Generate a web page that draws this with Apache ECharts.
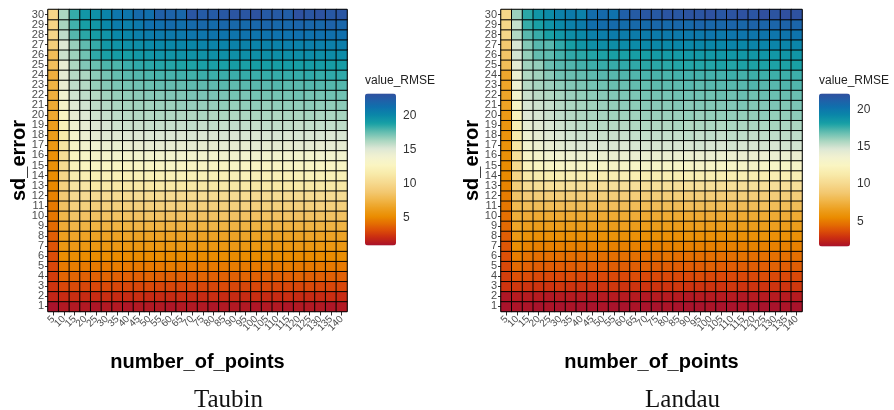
<!DOCTYPE html>
<html><head><meta charset="utf-8">
<script src="https://cdn.jsdelivr.net/npm/echarts@6/dist/echarts.min.js"></script>
<style>html,body{margin:0;padding:0;background:#fff}#c{width:894px;height:410px}</style>
</head><body><div id="c"></div>
<script>
const numberOfPoints = ['5','10','15','20','25','30','35','40','45','50','55','60','65','70','75','80','85','90','95','100','105','110','115','120','125','130','135','140'];
const sdError = ['1','2','3','4','5','6','7','8','9','10','11','12','13','14','15','16','17','18','19','20','21','22','23','24','25','26','27','28','29','30'];
const legendTicks = [5, 10, 15, 20];
const taubinRange = [0.85, 23.2];
const landauRange = [1.66, 22.1];

// rows: sd_error 1..30, columns: number_of_points 5..140
const taubinRMSE = [
[0.9,1.2,1.2,1.2,1.1,1.2,1.2,1.1,1.2,1.2,1.2,1.1,1.2,1.2,1.2,1.1,1.2,1.2,1.2,1.1,1.2,1.2,1.1,1.2,1.2,1.2,1.1,1.2],
[1.8,2.0,2.1,2.0,2.0,2.1,2.0,2.0,2.1,2.0,2.0,2.0,2.1,2.0,2.0,2.1,2.0,2.0,2.0,2.1,2.0,2.0,2.1,2.0,2.0,2.0,2.1,2.0],
[2.3,2.9,3.0,2.9,2.9,3.0,2.9,2.9,2.9,3.0,2.9,2.9,2.9,3.0,2.9,2.9,3.0,2.9,2.9,2.9,3.0,2.9,2.9,2.9,3.0,2.9,2.9,2.9],
[2.6,3.8,3.8,3.7,3.7,3.8,3.7,3.7,3.7,3.8,3.7,3.7,3.7,3.7,3.8,3.7,3.7,3.7,3.8,3.7,3.7,3.7,3.7,3.8,3.7,3.7,3.7,3.7],
[2.9,4.5,4.6,4.5,4.5,4.5,4.6,4.5,4.5,4.5,4.5,4.6,4.5,4.5,4.5,4.5,4.5,4.6,4.5,4.5,4.5,4.5,4.6,4.5,4.5,4.5,4.5,4.5],
[3.1,5.2,5.2,5.1,5.1,5.2,5.1,5.1,5.1,5.1,5.2,5.1,5.1,5.1,5.1,5.1,5.2,5.1,5.1,5.1,5.1,5.2,5.1,5.1,5.1,5.1,5.1,5.2],
[3.3,5.8,5.9,5.8,5.8,5.8,5.9,5.8,5.8,5.8,5.8,5.8,5.9,5.8,5.8,5.8,5.8,5.9,5.8,5.8,5.8,5.8,5.8,5.9,5.8,5.8,5.8,5.8],
[3.6,6.3,6.6,6.5,6.5,6.5,6.5,6.6,6.5,6.5,6.5,6.5,6.5,6.6,6.5,6.5,6.5,6.5,6.6,6.5,6.5,6.5,6.5,6.5,6.6,6.5,6.5,6.5],
[4.0,7.0,7.5,7.4,7.4,7.4,7.4,7.4,7.5,7.4,7.4,7.4,7.4,7.4,7.4,7.5,7.4,7.4,7.4,7.4,7.4,7.5,7.4,7.4,7.4,7.4,7.4,7.4],
[4.4,7.6,8.4,8.3,8.3,8.3,8.3,8.3,8.3,8.4,8.3,8.3,8.3,8.3,8.3,8.3,8.4,8.3,8.3,8.3,8.3,8.3,8.4,8.3,8.3,8.3,8.3,8.3],
[4.5,8.3,9.3,9.3,9.2,9.3,9.3,9.3,9.3,9.3,9.3,9.4,9.3,9.3,9.3,9.3,9.3,9.3,9.4,9.3,9.3,9.3,9.3,9.3,9.3,9.4,9.3,9.3],
[4.8,8.9,10.1,10.2,10.2,10.2,10.2,10.2,10.3,10.2,10.2,10.2,10.2,10.2,10.3,10.2,10.2,10.2,10.2,10.2,10.2,10.3,10.2,10.2,10.2,10.2,10.2,10.3],
[5.0,9.4,11.0,11.1,11.2,11.2,11.2,11.2,11.2,11.2,11.3,11.2,11.2,11.2,11.2,11.2,11.3,11.2,11.2,11.2,11.2,11.2,11.2,11.3,11.2,11.2,11.2,11.2],
[5.2,9.8,11.7,11.9,12.0,12.1,12.1,12.1,12.1,12.1,12.1,12.1,12.2,12.1,12.1,12.1,12.1,12.1,12.2,12.1,12.1,12.1,12.1,12.1,12.2,12.1,12.1,12.1],
[5.4,10.2,12.4,12.6,12.8,12.8,12.9,12.9,12.9,12.9,12.9,13.0,12.9,12.9,12.9,12.9,12.9,13.0,12.9,12.9,12.9,12.9,13.0,12.9,12.9,12.9,12.9,13.0],
[5.4,10.4,12.7,13.1,13.4,13.5,13.6,13.6,13.7,13.7,13.7,13.7,13.8,13.7,13.7,13.7,13.8,13.7,13.7,13.8,13.7,13.7,13.8,13.7,13.7,13.8,13.7,13.8],
[5.8,11.0,13.1,13.7,14.0,14.2,14.3,14.4,14.4,14.5,14.5,14.5,14.5,14.6,14.5,14.5,14.6,14.5,14.5,14.6,14.5,14.6,14.5,14.6,14.6,14.5,14.6,14.6],
[6.1,11.5,13.5,14.2,14.6,14.8,14.9,15.0,15.0,15.1,15.1,15.1,15.1,15.2,15.1,15.1,15.2,15.1,15.2,15.1,15.2,15.2,15.1,15.2,15.2,15.2,15.1,15.2],
[6.2,12.2,14.0,14.6,15.0,15.2,15.4,15.5,15.5,15.6,15.6,15.6,15.6,15.7,15.6,15.7,15.6,15.7,15.7,15.6,15.7,15.7,15.7,15.6,15.7,15.7,15.7,15.8],
[6.8,12.7,14.5,15.0,15.4,15.6,15.8,15.9,16.0,16.0,16.1,16.1,16.1,16.1,16.2,16.1,16.2,16.1,16.2,16.2,16.2,16.1,16.2,16.2,16.3,16.2,16.2,16.3],
[6.9,13.4,14.9,15.4,15.8,16.0,16.2,16.3,16.4,16.4,16.5,16.5,16.6,16.6,16.6,16.6,16.7,16.6,16.7,16.7,16.6,16.7,16.7,16.7,16.8,16.7,16.7,16.8],
[7.2,13.9,15.4,15.8,16.0,16.4,16.6,16.7,16.8,16.9,16.9,17.0,17.0,17.1,17.1,17.1,17.1,17.2,17.1,17.2,17.2,17.2,17.2,17.3,17.2,17.2,17.3,17.3],
[7.4,14.4,15.8,16.0,16.6,16.9,17.1,17.2,17.3,17.4,17.5,17.5,17.5,17.6,17.6,17.6,17.7,17.6,17.7,17.7,17.7,17.8,17.7,17.7,17.8,17.8,17.8,17.8],
[7.2,14.7,16.0,16.2,16.8,17.2,17.5,17.7,17.8,17.9,18.0,18.0,18.1,18.1,18.2,18.2,18.2,18.2,18.3,18.2,18.3,18.3,18.3,18.3,18.4,18.3,18.4,18.4],
[8.1,14.4,16.2,17.0,17.4,17.9,17.9,18.2,18.4,18.5,18.6,18.6,18.7,18.7,18.8,18.8,18.8,18.9,18.8,18.9,18.9,18.9,19.0,18.9,19.0,19.0,19.0,19.0],
[8.0,15.5,16.5,17.3,18.4,18.8,19.0,18.9,19.2,19.3,19.4,19.4,19.5,19.5,19.5,19.6,19.6,19.6,19.7,19.6,19.7,19.7,19.7,19.7,19.8,19.7,19.8,19.8],
[9.2,15.0,16.6,17.6,18.3,19.2,19.4,19.6,19.7,19.9,20.0,20.0,20.1,20.1,20.2,20.2,20.2,20.3,20.3,20.2,20.3,20.3,20.4,20.3,20.4,20.4,20.4,20.5],
[9.8,15.8,17.8,18.5,19.0,19.4,20.0,20.1,20.4,20.6,20.7,20.8,20.8,20.9,20.9,21.0,21.0,21.0,21.1,21.0,21.1,21.1,21.1,21.2,21.1,21.2,21.2,21.2],
[9.6,16.3,18.1,18.9,19.3,20.0,20.6,20.4,20.8,21.2,21.3,21.5,21.3,21.6,21.7,21.5,21.8,21.7,21.6,21.8,21.9,21.7,21.7,21.9,21.8,21.7,22.0,21.8],
[9.8,16.2,18.3,19.3,19.6,20.2,20.9,20.9,21.6,21.3,22.2,22.0,21.8,22.8,22.5,22.5,22.7,22.9,22.8,23.0,22.6,22.6,22.3,23.1,22.8,23.0,22.7,22.8]
];

const landauRMSE = [
[1.7,1.8,1.8,1.7,1.8,1.7,1.8,1.7,1.7,1.8,1.7,1.7,1.8,1.7,1.7,1.8,1.7,1.7,1.7,1.8,1.7,1.7,1.8,1.7,1.7,1.7,1.8,1.7],
[1.9,2.1,2.1,2.1,2.0,2.1,2.1,2.1,2.0,2.1,2.1,2.1,2.1,2.0,2.1,2.1,2.1,2.0,2.1,2.1,2.1,2.1,2.0,2.1,2.1,2.1,2.1,2.1],
[3.0,3.1,3.0,3.0,3.0,3.1,3.0,3.0,3.0,3.0,3.1,3.0,3.0,3.0,3.0,3.0,3.1,3.0,3.0,3.0,3.0,3.1,3.0,3.0,3.0,3.0,3.0,3.1],
[3.3,3.8,3.7,3.6,3.6,3.6,3.7,3.6,3.6,3.6,3.6,3.6,3.7,3.6,3.6,3.6,3.6,3.6,3.7,3.6,3.6,3.6,3.6,3.6,3.7,3.6,3.6,3.6],
[3.6,4.5,4.3,4.2,4.2,4.2,4.2,4.3,4.2,4.2,4.2,4.2,4.2,4.3,4.2,4.2,4.2,4.2,4.2,4.3,4.2,4.2,4.2,4.2,4.2,4.3,4.2,4.2],
[3.8,5.1,4.8,4.7,4.7,4.7,4.7,4.7,4.8,4.7,4.7,4.7,4.7,4.7,4.7,4.8,4.7,4.7,4.7,4.7,4.7,4.7,4.8,4.7,4.7,4.7,4.7,4.7],
[4.0,5.7,5.3,5.2,5.2,5.2,5.2,5.2,5.2,5.3,5.2,5.2,5.2,5.2,5.2,5.2,5.3,5.2,5.2,5.2,5.2,5.2,5.2,5.3,5.2,5.2,5.2,5.2],
[4.2,6.3,5.9,5.8,5.8,5.8,5.8,5.8,5.8,5.8,5.9,5.8,5.8,5.8,5.8,5.8,5.8,5.9,5.8,5.8,5.8,5.8,5.8,5.8,5.9,5.8,5.8,5.8],
[4.5,6.9,6.6,6.5,6.5,6.5,6.5,6.5,6.5,6.5,6.5,6.6,6.5,6.5,6.5,6.5,6.5,6.5,6.6,6.5,6.5,6.5,6.5,6.5,6.5,6.6,6.5,6.5],
[4.7,7.4,7.3,7.2,7.2,7.2,7.2,7.2,7.2,7.2,7.2,7.2,7.3,7.2,7.2,7.2,7.2,7.2,7.2,7.3,7.2,7.2,7.2,7.2,7.2,7.2,7.3,7.2],
[4.9,8.0,8.2,8.2,8.2,8.2,8.2,8.2,8.2,8.2,8.3,8.2,8.2,8.2,8.2,8.2,8.2,8.3,8.2,8.2,8.2,8.2,8.2,8.2,8.3,8.2,8.2,8.2],
[5.1,8.6,9.1,9.2,9.2,9.2,9.2,9.2,9.2,9.3,9.2,9.2,9.2,9.2,9.2,9.2,9.3,9.2,9.2,9.2,9.2,9.2,9.3,9.2,9.2,9.2,9.2,9.2],
[5.3,9.2,10.2,10.4,10.5,10.5,10.5,10.5,10.5,10.5,10.6,10.5,10.5,10.5,10.5,10.5,10.5,10.6,10.5,10.5,10.5,10.5,10.5,10.6,10.5,10.5,10.5,10.5],
[5.5,9.7,11.2,11.5,11.6,11.7,11.7,11.7,11.7,11.7,11.7,11.8,11.7,11.7,11.7,11.7,11.7,11.8,11.7,11.7,11.7,11.7,11.8,11.7,11.7,11.7,11.7,11.8],
[5.6,10.1,12.2,12.5,12.7,12.8,12.8,12.9,12.9,12.9,12.9,12.9,12.9,13.0,12.9,12.9,12.9,12.9,13.0,12.9,12.9,12.9,12.9,13.0,12.9,12.9,12.9,13.0],
[5.8,10.6,12.8,13.2,13.5,13.6,13.7,13.8,13.8,13.9,13.9,13.9,13.9,13.9,13.9,14.0,13.9,13.9,13.9,14.0,13.9,13.9,14.0,13.9,13.9,14.0,13.9,14.0],
[5.9,11.0,13.4,13.8,14.1,14.3,14.5,14.6,14.6,14.7,14.7,14.7,14.8,14.8,14.8,14.8,14.8,14.8,14.9,14.8,14.8,14.9,14.8,14.8,14.9,14.8,14.9,14.9],
[6.0,11.4,13.8,14.2,14.5,14.7,14.9,15.0,15.0,15.1,15.1,15.1,15.2,15.2,15.2,15.2,15.2,15.3,15.2,15.3,15.2,15.3,15.3,15.2,15.3,15.3,15.3,15.3],
[6.1,11.8,14.2,14.5,14.8,15.0,15.2,15.3,15.4,15.5,15.5,15.5,15.6,15.6,15.6,15.6,15.7,15.6,15.7,15.7,15.6,15.7,15.7,15.7,15.7,15.8,15.7,15.7],
[6.3,12.2,14.6,14.8,15.1,15.3,15.5,15.6,15.7,15.8,15.9,15.9,15.9,16.0,16.0,16.0,16.0,16.1,16.0,16.1,16.1,16.1,16.1,16.1,16.2,16.1,16.1,16.2],
[6.8,12.7,14.8,15.0,15.2,15.5,15.7,15.8,15.9,16.0,16.1,16.2,16.2,16.3,16.3,16.3,16.4,16.3,16.4,16.4,16.4,16.4,16.5,16.4,16.4,16.5,16.4,16.5],
[6.9,13.3,15.1,15.4,15.6,15.8,16.0,16.1,16.2,16.3,16.4,16.5,16.5,16.6,16.6,16.6,16.7,16.7,16.7,16.7,16.8,16.7,16.8,16.7,16.8,16.8,16.8,16.8],
[6.9,13.7,15.5,15.8,16.0,16.2,16.4,16.5,16.6,16.7,16.8,16.8,16.9,16.9,17.0,17.0,17.0,17.1,17.0,17.1,17.1,17.1,17.1,17.2,17.1,17.1,17.2,17.2],
[7.0,13.9,15.6,15.9,16.3,16.7,16.8,16.9,17.0,17.1,17.1,17.2,17.2,17.3,17.3,17.3,17.4,17.4,17.4,17.4,17.4,17.5,17.4,17.5,17.5,17.5,17.5,17.5],
[8.2,14.3,15.9,16.1,16.8,17.1,17.2,17.4,17.5,17.6,17.6,17.7,17.7,17.8,17.8,17.8,17.9,17.9,17.9,17.9,18.0,17.9,18.0,18.0,18.0,18.0,18.0,18.1],
[8.6,14.9,16.1,16.9,17.0,17.4,17.7,17.8,17.9,18.0,18.1,18.1,18.2,18.2,18.3,18.3,18.3,18.4,18.4,18.4,18.5,18.5,18.5,18.5,18.6,18.5,18.6,18.6],
[8.8,14.8,16.4,17.1,17.1,17.7,18.2,18.6,18.8,18.9,18.9,19.0,19.0,19.1,19.1,19.1,19.2,19.1,19.2,19.2,19.2,19.3,19.2,19.3,19.3,19.3,19.3,19.3],
[9.8,15.6,17.1,17.6,18.1,18.5,18.9,19.1,19.5,19.6,19.7,19.7,19.8,19.8,19.8,19.9,19.9,19.9,19.9,20.0,19.9,20.0,20.0,20.0,20.1,20.0,20.1,20.1],
[9.8,15.2,17.6,18.1,18.7,19.1,19.5,19.8,20.4,20.5,20.6,20.5,20.7,20.6,20.8,20.7,20.8,20.7,20.9,20.8,20.8,20.9,20.8,21.0,20.9,20.9,21.0,20.9],
[9.8,16.0,17.8,18.6,19.0,19.5,19.8,19.5,20.5,20.6,20.2,21.2,21.5,21.7,21.6,21.8,21.7,21.9,21.8,22.0,21.7,21.9,22.0,21.8,22.1,21.9,22.1,22.0]
];

// colour scale (fraction of range -> colour)
const paletteStops = [
[0.000,'#A8122C'],[0.025,'#B81C1E'],[0.060,'#CC3010'],[0.101,'#DC4E08'],[0.145,'#E46E02'],
[0.190,'#EA8C00'],[0.244,'#EDA020'],[0.298,'#F0B548'],[0.351,'#F3C870'],[0.414,'#F6DA90'],
[0.472,'#F8EAAA'],[0.530,'#FAF5C2'],[0.584,'#F2F2D0'],[0.638,'#DDE7D5'],[0.691,'#A8D5C0'],
[0.749,'#60BCAF'],[0.803,'#18A0A5'],[0.857,'#0A88A8'],[0.911,'#0F70AD'],[0.955,'#2060A8'],[1.000,'#3050A0']
];
function hex2rgb(h){return [parseInt(h.slice(1,3),16),parseInt(h.slice(3,5),16),parseInt(h.slice(5,7),16)];}
function colorAt(t){
  for(let i=1;i<paletteStops.length;i++){
    if(t<=paletteStops[i][0]){
      const a=paletteStops[i-1],b=paletteStops[i];
      const f=(t-a[0])/(b[0]-a[0]);
      const ca=hex2rgb(a[1]),cb=hex2rgb(b[1]);
      return 'rgb('+ca.map((v,k)=>Math.round(v+(cb[k]-v)*f)).join(',')+')';
    }
  }
  return paletteStops[paletteStops.length-1][1];
}
const palette=[];
for(let i=0;i<=120;i++) palette.push(colorAt(i/120));

function toCells(rows){
  const out=[];
  rows.forEach((row,yi)=>row.forEach((v,xi)=>out.push([xi,yi,v])));
  return out;
}

const FONT='"Liberation Sans", Arial, sans-serif';
const panels=[
  {grid:{left:48,top:9.5,width:299,height:302}, bar:{left:365,top:93.5,width:31,height:152}, rows:taubinRMSE, range:taubinRange, name:'Taubin'},
  {grid:{left:501,top:9.5,width:301,height:302}, bar:{left:819,top:93.5,width:31,height:153}, rows:landauRMSE, range:landauRange, name:'Landau'}
];

const grid=[],xAxis=[],yAxis=[],series=[],visualMap=[],graphic=[];
panels.forEach((p,i)=>{
  grid.push({left:p.grid.left,top:p.grid.top,width:p.grid.width,height:p.grid.height,show:true,borderColor:'#555',borderWidth:1,backgroundColor:'transparent'});
  xAxis.push({type:'category',gridIndex:grid.length-1,data:numberOfPoints,
    name:'number_of_points',nameLocation:'middle',nameGap:41,nameMoveOverlap:false,
    nameTextStyle:{fontFamily:FONT,fontSize:20,fontWeight:'bold',color:'#000'},
    axisLine:{show:false},axisTick:{show:true,length:4,alignWithLabel:true,lineStyle:{color:'#333'}},
    axisLabel:{rotate:45,fontFamily:FONT,fontSize:10,color:'#4d4d4d',margin:6,interval:0,hideOverlap:false},splitLine:{show:false}});
  yAxis.push({type:'category',gridIndex:grid.length-1,data:sdError,
    name:'sd_error',nameLocation:'middle',nameGap:19,nameRotate:90,nameMoveOverlap:false,
    nameTextStyle:{fontFamily:FONT,fontSize:20,fontWeight:'bold',color:'#000'},
    axisLine:{show:false},axisTick:{show:true,length:3,alignWithLabel:true,lineStyle:{color:'#333'}},
    axisLabel:{fontFamily:FONT,fontSize:11,color:'#4d4d4d',margin:4,interval:0},splitLine:{show:false}});
  series.push({type:'heatmap',xAxisIndex:xAxis.length-1,yAxisIndex:yAxis.length-1,data:toCells(p.rows),
    itemStyle:{borderColor:'#000',borderWidth:1},emphasis:{disabled:true},progressive:0,animation:false});
  visualMap.push({type:'continuous',seriesIndex:i,min:p.range[0],max:p.range[1],calculable:false,
    orient:'vertical',left:p.bar.left,top:p.bar.top,itemWidth:p.bar.width,itemHeight:p.bar.height,padding:0,
    text:null,showLabel:false,inRange:{color:palette},hoverLink:false});
  // colourbar tick axis
  grid.push({left:p.bar.left,top:p.bar.top,width:p.bar.width,height:p.bar.height,show:false});
  const gi=grid.length-1;
  xAxis.push({type:'value',gridIndex:gi,show:false,min:0,max:1});
  yAxis.push({type:'value',gridIndex:gi,position:'right',min:p.range[0],max:p.range[1],
    axisLine:{show:false},splitLine:{show:false},
    axisTick:{show:true,inside:true,length:6,customValues:legendTicks,lineStyle:{color:'#fff',width:1}},
    axisLabel:{show:true,customValues:legendTicks,fontFamily:FONT,fontSize:12,color:'#333',margin:7}});
  yAxis.push({type:'value',gridIndex:gi,position:'left',min:p.range[0],max:p.range[1],
    axisLine:{show:false},splitLine:{show:false},
    axisTick:{show:true,inside:true,length:6,customValues:legendTicks,lineStyle:{color:'#fff',width:1}},
    axisLabel:{show:false}});
  graphic.push({type:'text',left:p.bar.left,top:p.bar.top-19,style:{text:'value_RMSE',font:'12px '+FONT,fill:'#222'}});
  graphic.push({type:'text',x:p.grid.left+p.grid.width/2+31,y:400,style:{text:p.name,font:'25px "Liberation Serif", serif',fill:'#111',textAlign:'center',textVerticalAlign:'middle'}});
});

const chart=echarts.init(document.getElementById('c'),null,{renderer:'canvas'});
chart.setOption({animation:false,grid,xAxis,yAxis,series,visualMap,graphic});
</script></body></html>
